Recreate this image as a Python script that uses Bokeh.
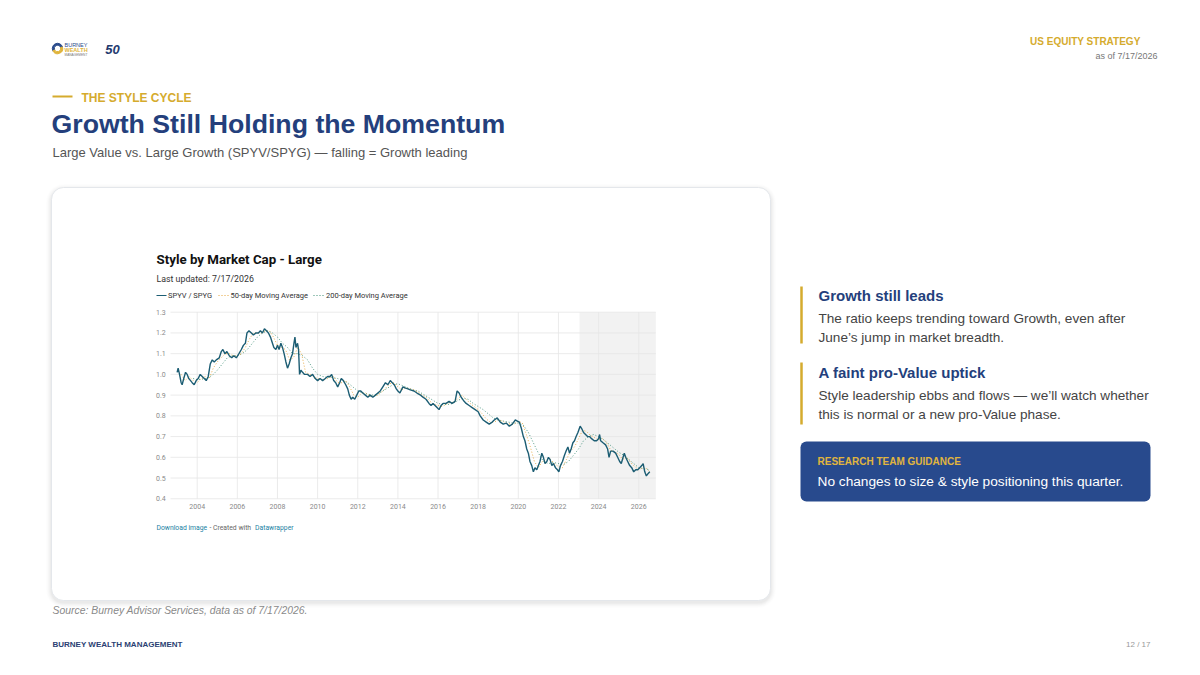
from bokeh.plotting import figure
from bokeh.models import Range1d
from bokeh.embed import file_html
from bokeh.resources import INLINE
from bokeh.core.properties import value

# ---------------- data ----------------
RATIO_YEARS = [2003.00, 2003.05, 2003.12, 2003.20, 2003.25, 2003.33, 2003.42, 2003.50, 2003.58, 2003.67,
               2003.75, 2003.85, 2003.95, 2004.05, 2004.15, 2004.25, 2004.35, 2004.45, 2004.55, 2004.65,
               2004.75, 2004.85, 2004.95, 2005.10, 2005.20, 2005.28, 2005.38, 2005.48, 2005.60, 2005.72,
               2005.82, 2005.95, 2006.08, 2006.20, 2006.30, 2006.40, 2006.48, 2006.58, 2006.70, 2006.80,
               2006.92, 2007.05, 2007.15, 2007.25, 2007.35, 2007.45, 2007.55, 2007.65, 2007.75, 2007.82,
               2007.92, 2008.00, 2008.08, 2008.17, 2008.25, 2008.33, 2008.42, 2008.50, 2008.58, 2008.67,
               2008.75, 2008.82, 2008.87, 2008.92, 2009.00, 2009.05, 2009.10, 2009.17, 2009.25, 2009.35,
               2009.50, 2009.62, 2009.75, 2009.88, 2010.00, 2010.12, 2010.25, 2010.38, 2010.50, 2010.62,
               2010.70, 2010.80, 2010.90, 2011.00, 2011.10, 2011.18, 2011.28, 2011.40, 2011.50, 2011.58,
               2011.67, 2011.75, 2011.85, 2011.95, 2012.05, 2012.15, 2012.25, 2012.38, 2012.50, 2012.62,
               2012.75, 2012.88, 2013.00, 2013.12, 2013.25, 2013.38, 2013.50, 2013.62, 2013.72, 2013.82,
               2013.92, 2014.00, 2014.10, 2014.25, 2014.35, 2014.50, 2014.62, 2014.80, 2014.95, 2015.13,
               2015.25, 2015.40, 2015.55, 2015.65, 2015.75, 2015.85, 2015.95, 2016.05, 2016.15, 2016.25,
               2016.40, 2016.55, 2016.70, 2016.85, 2016.95, 2017.05, 2017.15, 2017.30, 2017.40, 2017.55,
               2017.70, 2017.85, 2018.00, 2018.10, 2018.25, 2018.40, 2018.55, 2018.70, 2018.80, 2018.95,
               2019.10, 2019.25, 2019.40, 2019.55, 2019.70, 2019.85, 2019.95, 2020.05, 2020.15, 2020.25,
               2020.33, 2020.42, 2020.50, 2020.58, 2020.67, 2020.75, 2020.83, 2020.92, 2021.00, 2021.08,
               2021.17, 2021.25, 2021.33, 2021.42, 2021.50, 2021.58, 2021.67, 2021.75, 2021.85, 2021.95,
               2022.02, 2022.10, 2022.20, 2022.30, 2022.38, 2022.47, 2022.55, 2022.63, 2022.72, 2022.80,
               2022.88, 2022.97, 2023.08, 2023.15, 2023.25, 2023.35, 2023.45, 2023.55, 2023.65, 2023.78,
               2023.90, 2024.00, 2024.05, 2024.10, 2024.22, 2024.35, 2024.45, 2024.52, 2024.60, 2024.72,
               2024.85, 2024.95, 2025.05, 2025.13, 2025.22, 2025.28, 2025.35, 2025.45, 2025.55, 2025.65,
               2025.75, 2025.85, 2025.95, 2026.05, 2026.15, 2026.22, 2026.30, 2026.38, 2026.45, 2026.55]
RATIO = [1.01, 1.03, 1.00, 0.96, 0.95, 0.98, 1.01, 1.00, 0.98, 0.97,
         0.96, 0.95, 0.97, 0.98, 1.00, 0.99, 0.98, 0.97, 0.99, 1.05,
         1.07, 1.06, 1.07, 1.08, 1.11, 1.12, 1.10, 1.11, 1.09, 1.08,
         1.09, 1.08, 1.10, 1.12, 1.14, 1.15, 1.20, 1.21, 1.20, 1.19,
         1.20, 1.20, 1.21, 1.20, 1.22, 1.21, 1.20, 1.18, 1.15, 1.13,
         1.12, 1.14, 1.12, 1.15, 1.13, 1.10, 1.06, 1.03, 1.05, 1.08,
         1.10, 1.15, 1.18, 1.13, 1.15, 1.12, 1.00, 1.02, 1.01, 1.00,
         1.00, 0.99, 1.00, 0.98, 0.97, 0.98, 0.97, 0.98, 0.99, 0.99,
         1.00, 0.97, 0.96, 0.94, 0.96, 0.98, 0.97, 0.95, 0.93, 0.90,
         0.88, 0.89, 0.88, 0.90, 0.92, 0.92, 0.91, 0.90, 0.89, 0.90,
         0.89, 0.90, 0.91, 0.92, 0.94, 0.96, 0.95, 0.97, 0.96, 0.95,
         0.93, 0.92, 0.91, 0.94, 0.935, 0.93, 0.925, 0.92, 0.91, 0.90,
         0.89, 0.88, 0.86, 0.85, 0.86, 0.85, 0.84, 0.83, 0.85, 0.86,
         0.86, 0.87, 0.86, 0.87, 0.92, 0.91, 0.89, 0.87, 0.86, 0.85,
         0.84, 0.83, 0.82, 0.80, 0.78, 0.77, 0.76, 0.77, 0.78, 0.79,
         0.77, 0.76, 0.765, 0.75, 0.76, 0.78, 0.775, 0.77, 0.74, 0.70,
         0.68, 0.64, 0.62, 0.58, 0.56, 0.53, 0.55, 0.54, 0.56, 0.58,
         0.62, 0.60, 0.57, 0.58, 0.60, 0.59, 0.56, 0.57, 0.55, 0.54,
         0.53, 0.56, 0.58, 0.61, 0.63, 0.65, 0.62, 0.64, 0.67, 0.68,
         0.70, 0.72, 0.75, 0.74, 0.72, 0.71, 0.70, 0.70, 0.69, 0.68,
         0.68, 0.69, 0.71, 0.68, 0.67, 0.66, 0.64, 0.60, 0.63, 0.63,
         0.62, 0.60, 0.58, 0.57, 0.60, 0.62, 0.60, 0.58, 0.56, 0.55,
         0.53, 0.54, 0.54, 0.55, 0.56, 0.57, 0.53, 0.51, 0.52, 0.53]

MA50_YEARS = [2003.2, 2003.4, 2003.6, 2003.8, 2004.0, 2004.2, 2004.4, 2004.6, 2004.8, 2005.0,
              2005.2, 2005.4, 2005.6, 2005.8, 2006.0, 2006.2, 2006.4, 2006.6, 2006.8, 2007.0,
              2007.2, 2007.4, 2007.6, 2007.8, 2008.0, 2008.2, 2008.4, 2008.6, 2008.8, 2009.0,
              2009.2, 2009.4, 2009.6, 2009.8, 2010.0, 2010.2, 2010.4, 2010.6, 2010.8, 2011.0,
              2011.2, 2011.4, 2011.6, 2011.8, 2012.0, 2012.2, 2012.4, 2012.6, 2012.8, 2013.0,
              2013.2, 2013.4, 2013.6, 2013.8, 2014.0, 2014.2, 2014.4, 2014.6, 2014.8, 2015.0,
              2015.2, 2015.4, 2015.6, 2015.8, 2016.0, 2016.2, 2016.4, 2016.6, 2016.8, 2017.0,
              2017.2, 2017.4, 2017.6, 2017.8, 2018.0, 2018.2, 2018.4, 2018.6, 2018.8, 2019.0,
              2019.2, 2019.4, 2019.6, 2019.8, 2020.0, 2020.2, 2020.4, 2020.6, 2020.8, 2021.0,
              2021.2, 2021.4, 2021.6, 2021.8, 2022.0, 2022.2, 2022.4, 2022.6, 2022.8, 2023.0,
              2023.2, 2023.4, 2023.6, 2023.8, 2024.0, 2024.2, 2024.4, 2024.6, 2024.8, 2025.0,
              2025.2, 2025.4, 2025.6, 2025.8, 2026.0, 2026.2, 2026.4, 2026.55]
MA50 = [1.00, 0.97, 0.99, 0.97, 0.96, 0.98, 0.99, 0.98, 1.03, 1.06,
        1.08, 1.10, 1.10, 1.09, 1.09, 1.10, 1.13, 1.17, 1.20, 1.20,
        1.20, 1.21, 1.21, 1.18, 1.14, 1.13, 1.12, 1.07, 1.08, 1.13,
        1.10, 1.01, 1.00, 0.99, 0.98, 0.975, 0.975, 0.985, 0.99, 0.96,
        0.96, 0.97, 0.94, 0.90, 0.89, 0.91, 0.91, 0.895, 0.895, 0.90,
        0.915, 0.935, 0.955, 0.96, 0.94, 0.925, 0.935, 0.93, 0.925, 0.915,
        0.90, 0.89, 0.87, 0.855, 0.85, 0.845, 0.855, 0.865, 0.865, 0.885,
        0.90, 0.88, 0.86, 0.845, 0.83, 0.81, 0.785, 0.77, 0.77, 0.78,
        0.775, 0.765, 0.76, 0.76, 0.775, 0.765, 0.71, 0.65, 0.58, 0.55,
        0.58, 0.59, 0.59, 0.57, 0.555, 0.55, 0.59, 0.63, 0.65, 0.69,
        0.73, 0.725, 0.705, 0.695, 0.685, 0.69, 0.67, 0.635, 0.625, 0.615,
        0.59, 0.60, 0.575, 0.555, 0.54, 0.55, 0.545, 0.53]

MA200_YEARS = [2003.8, 2004.0, 2004.5, 2004.8, 2005.0, 2005.25, 2005.5, 2005.75, 2006.0, 2006.25,
               2006.5, 2006.75, 2007.0, 2007.25, 2007.5, 2007.75, 2008.0, 2008.25, 2008.5, 2008.75,
               2009.0, 2009.25, 2009.5, 2009.75, 2010.0, 2010.25, 2010.5, 2010.75, 2011.0, 2011.25,
               2011.5, 2011.75, 2012.0, 2012.25, 2012.5, 2012.75, 2013.0, 2013.25, 2013.5, 2013.75,
               2014.0, 2014.25, 2014.5, 2014.75, 2015.0, 2015.25, 2015.5, 2015.75, 2016.0, 2016.25,
               2016.5, 2016.75, 2017.0, 2017.25, 2017.5, 2017.75, 2018.0, 2018.25, 2018.5, 2018.75,
               2019.0, 2019.25, 2019.5, 2019.75, 2020.0, 2020.25, 2020.5, 2020.75, 2021.0, 2021.25,
               2021.5, 2021.75, 2022.0, 2022.25, 2022.5, 2022.75, 2023.0, 2023.25, 2023.5, 2023.75,
               2024.0, 2024.25, 2024.5, 2024.75, 2025.0, 2025.25, 2025.5, 2025.75, 2026.0, 2026.25,
               2026.55]
MA200 = [0.98, 0.975, 0.98, 1.00, 1.02, 1.05, 1.08, 1.09, 1.09, 1.10,
         1.12, 1.15, 1.18, 1.20, 1.21, 1.20, 1.18, 1.15, 1.13, 1.10,
         1.10, 1.09, 1.07, 1.03, 1.00, 0.99, 0.985, 0.985, 0.98, 0.97,
         0.96, 0.94, 0.92, 0.91, 0.905, 0.90, 0.905, 0.92, 0.935, 0.95,
         0.955, 0.945, 0.935, 0.925, 0.92, 0.905, 0.89, 0.875, 0.86, 0.855,
         0.855, 0.86, 0.875, 0.885, 0.88, 0.86, 0.845, 0.83, 0.81, 0.79,
         0.78, 0.775, 0.77, 0.765, 0.765, 0.755, 0.72, 0.67, 0.62, 0.58,
         0.57, 0.575, 0.57, 0.565, 0.58, 0.61, 0.64, 0.68, 0.70, 0.71,
         0.70, 0.685, 0.665, 0.645, 0.625, 0.61, 0.59, 0.57, 0.55, 0.545,
         0.54]

Y_TICKS = [0.4, 0.5, 0.6, 0.7, 0.8, 0.9, 1.0, 1.1, 1.2, 1.3]
Y_LABELS = ["0.4", "0.5", "0.6", "0.7", "0.8", "0.9", "1.0", "1.1", "1.2", "1.3"]
X_TICKS = [2004, 2006, 2008, 2010, 2012, 2014, 2016, 2018, 2020, 2022, 2024, 2026]
X_LABELS = [str(y) for y in X_TICKS]
X_DOMAIN = [2002.67, 2026.85]
HIGHLIGHT = [2023.05, 2026.85]

# ---------------- page figure (data units = picture pixels) ----------------
W, H = 1184, 659
p = figure(width=W, height=H, x_range=Range1d(0, W), y_range=Range1d(H, 0),
           x_axis_type=None, y_axis_type=None, output_backend="svg", toolbar_location=None,
           min_border=0)
p.grid.visible = False
p.outline_line_color = None
p.background_fill_color = "white"
p.border_fill_color = "white"

# chart scales mapped onto the embedded chart area
X2004_PX, PX_PER_YEAR = 196.7, 20.07
Y13_PX, PX_PER_UNIT = 311.7, 207.3
def yr_at(px):
    return 2004 + (px - X2004_PX) / PX_PER_YEAR
def val_at(py):
    return 1.3 - (py - Y13_PX) / PX_PER_UNIT
p.extra_x_ranges["c"] = Range1d(yr_at(0), yr_at(W))
p.extra_y_ranges["c"] = Range1d(val_at(H), val_at(0))

SANS = "Liberation Sans"
ROBO = "Roboto"
NAVY = "#243f7c"
GOLD = "#d5ab2e"
DOT = "1 2"

def txt(x, y, s, size, color, font=SANS, style="normal", align="left", baseline="middle", **kw):
    p.text(x=[x], y=[y], text=[s], text_font=value(font), text_font_size=f"{size}px",
           text_color=color, text_font_style=style, text_align=align, text_baseline=baseline, **kw)

# ---- logo ----
p.annular_wedge(x=[57], y=[48], inner_radius=3.2, outer_radius=5.2, start_angle=0.3, end_angle=3.6,
                color="#2b4c8c", direction="anticlock")
p.annular_wedge(x=[57], y=[48], inner_radius=3.2, outer_radius=5.2, start_angle=3.6, end_angle=0.3,
                color="#e0b43a", direction="anticlock")
txt(64, 44.5, "BURNEY", 5.5, "#2b4c8c")
txt(64, 49.5, "WEALTH", 5.5, "#e0b43a", style="bold")
txt(64, 54, "MANAGEMENT", 3.2, "#777777")
txt(112, 48.5, "50", 13, "#233a6e", style="bold italic", align="center")

# ---- header right ----
txt(1140, 40.5, "US EQUITY STRATEGY", 10, GOLD, style="bold", align="right")
txt(1157, 55, "as of 7/17/2026", 9, "#777777", align="right")

# ---- section title ----
p.segment(x0=[52], y0=[96], x1=[72], y1=[96], line_color=GOLD, line_width=2)
txt(81, 97, "THE STYLE CYCLE", 12, GOLD, style="bold")
txt(51, 123, "Growth Still Holding the Momentum", 26.7, NAVY, style="bold")
txt(52, 152, "Large Value vs. Large Growth (SPYV/SPYG) \u2014 falling = Growth leading", 13, "#555555")

# ---- card with shadow ----
for i, a in enumerate([0.025, 0.02, 0.015, 0.012, 0.008, 0.005]):
    g = i + 1
    p.quad(left=[51 - g], right=[770 + g], top=[187 - g + 2], bottom=[600 + g + 2],
           fill_color="#000000", fill_alpha=a, line_color=None, border_radius=12 + g)
p.quad(left=[51], right=[770], top=[187], bottom=[600], fill_color="white",
       line_color="#e4e7eb", line_width=1, border_radius=12)

# ---- embedded chart ----
txt(156, 258.5, "Style by Market Cap - Large", 13.3, "#111111", font=ROBO, style="bold")
txt(156, 278, "Last updated: 7/17/2026", 8.8, "#333333", font=ROBO)
p.segment(x0=[156], y0=[295], x1=[166], y1=[295], line_color="#1c5d73", line_width=1.2)
txt(167.5, 295, "SPYV / SPYG", 7.5, "#333333", font=ROBO)
p.segment(x0=[218], y0=[295], x1=[228], y1=[295], line_color="#e5a53a", line_width=1.2, line_dash=DOT)
txt(230, 295, "50-day Moving Average", 7.5, "#333333", font=ROBO)
p.segment(x0=[313], y0=[295], x1=[323], y1=[295], line_color="#3f8f77", line_width=1.2, line_dash=DOT)
txt(325.5, 295, "200-day Moving Average", 7.5, "#333333", font=ROBO)

C = dict(x_range_name="c", y_range_name="c")
p.quad(left=[HIGHLIGHT[0]], right=[HIGHLIGHT[1]], bottom=[Y_TICKS[0]], top=[Y_TICKS[-1]],
       fill_color="#f2f2f2", line_color=None, **C)
p.segment(x0=[X_DOMAIN[0]] * len(Y_TICKS), x1=[X_DOMAIN[1]] * len(Y_TICKS), y0=Y_TICKS, y1=Y_TICKS,
          line_color="#e6e6e6", line_width=0.8, **C)
p.segment(x0=X_TICKS, x1=X_TICKS, y0=[Y_TICKS[0]] * len(X_TICKS), y1=[Y_TICKS[-1]] * len(X_TICKS),
          line_color="#e6e6e6", line_width=0.8, **C)
p.text(x=[155.5] * len(Y_TICKS), y=Y_TICKS, text=Y_LABELS, text_font=value(ROBO), text_font_size="7px",
       text_color="#8a8a8a", text_baseline="middle", text_align="left", y_range_name="c")
p.text(x=X_TICKS, y=[506] * len(X_TICKS), text=X_LABELS, text_font=value(ROBO), text_font_size="7px",
       text_color="#8a8a8a", text_baseline="middle", text_align="center", x_range_name="c")

p.line(MA200_YEARS, MA200, line_color="#3f8f77", line_width=0.9, line_dash=DOT, **C)
p.line(MA50_YEARS, MA50, line_color="#e5a53a", line_width=0.9, line_dash=DOT, **C)
p.line(RATIO_YEARS, RATIO, line_color="#1c5d73", line_width=1.4, **C)

txt(156, 527.5, "Download image", 6.8, "#1a7fa3", font=ROBO)
txt(209, 527.5, "- Created with", 6.8, "#666666", font=ROBO)
txt(254.5, 527.5, "Datawrapper", 6.8, "#1a7fa3", font=ROBO)

# ---- right column ----
p.segment(x0=[801, 801], y0=[286, 362], x1=[801, 801], y1=[343, 424], line_color=GOLD, line_width=2.5)
txt(818, 295, "Growth still leads", 15, NAVY, style="bold")
txt(818, 318, "The ratio keeps trending toward Growth, even after", 13.6, "#444444")
txt(818, 337, "June\u2019s jump in market breadth.", 13.6, "#444444")
txt(818, 371.5, "A faint pro-Value uptick", 15, NAVY, style="bold")
txt(818, 395, "Style leadership ebbs and flows \u2014 we\u2019ll watch whether", 13.6, "#444444")
txt(818, 413.5, "this is normal or a new pro-Value phase.", 13.6, "#444444")

p.quad(left=[800], right=[1150], top=[441], bottom=[501], fill_color="#284a8d", line_color=None,
       border_radius=6)
txt(817, 460.5, "RESEARCH TEAM GUIDANCE", 10, "#e0b53e", style="bold")
txt(817, 481, "No changes to size & style positioning this quarter.", 13.7, "white")

# ---- footer ----
txt(52, 610, "Source: Burney Advisor Services, data as of 7/17/2026.", 10.4, "#8a8a8a", style="italic")
txt(52, 643.5, "BURNEY WEALTH MANAGEMENT", 8, "#2b3f73", style="bold")
txt(1150, 643.5, "12 / 17", 8, "#999999", align="right")

open("out.html", "w").write(file_html(p, INLINE))
